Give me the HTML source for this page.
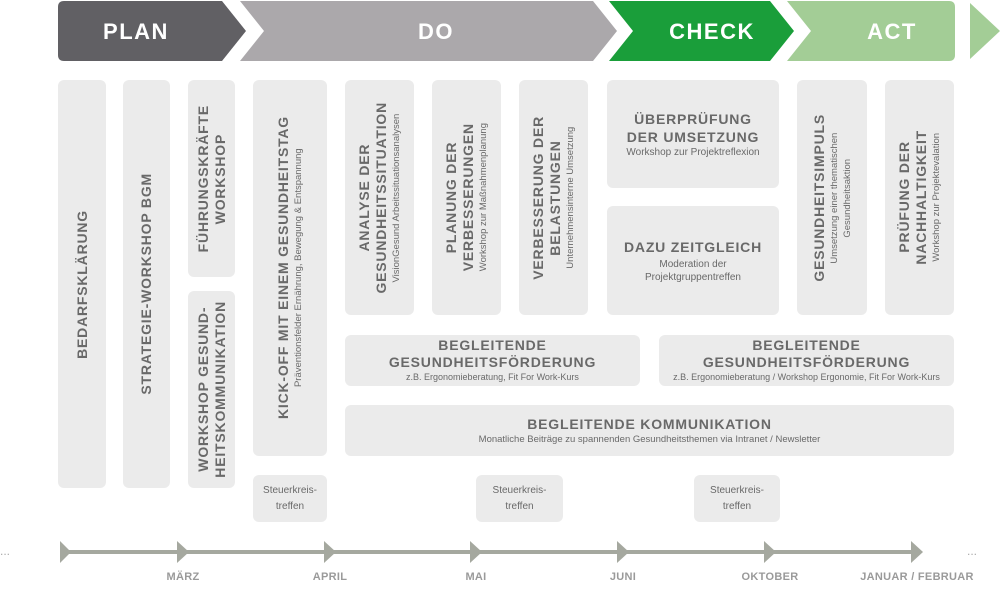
<!DOCTYPE html>
<html><head><meta charset="utf-8"><style>
body{margin:0;width:1000px;height:596px;background:#fff;position:relative;overflow:hidden;font-family:"Liberation Sans",sans-serif;color:#696969}
.b{position:absolute;background:#ebebeb;border-radius:6px;display:flex;align-items:center;justify-content:center;text-align:center}
.v{writing-mode:vertical-rl;transform:rotate(180deg)}
.t{font-weight:bold;font-size:14px;letter-spacing:0.8px;line-height:17px}
.s{font-size:9.5px;line-height:13px;letter-spacing:0}
.h{font-weight:bold;font-size:14px;letter-spacing:0.8px;line-height:18px}
.m{position:absolute;top:571px;font-size:11px;font-weight:bold;color:#9a9a9a;transform:translateX(-50%);letter-spacing:0.3px;white-space:nowrap}
</style></head><body>
<svg width="1000" height="64" style="position:absolute;left:0;top:0">
<path d="M64 1 H222 L246 31 L222 61 H64 Q58 61 58 55 V7 Q58 1 64 1Z" fill="#616064"/>
<path d="M240 1 H593 L617 31 L593 61 H240 L264 31Z" fill="#aba8ab"/>
<path d="M609 1 H770 L794 31 L770 61 H609 L633 31Z" fill="#1a9e3a"/>
<path d="M787 1 H949 Q955 1 955 7 V55 Q955 61 949 61 H787 L811 31Z" fill="#a3cd96"/>
<path d="M970 3 L1000 31 L970 59Z" fill="#a3cd96"/>
<g fill="#fff" font-family="Liberation Sans" font-weight="bold" font-size="22" letter-spacing="1.5" text-anchor="middle">
<text x="136" y="39">PLAN</text><text x="436" y="39">DO</text><text x="712" y="39">CHECK</text><text x="892" y="39">ACT</text></g>
</svg>

<div class="b" style="left:58px;top:80px;width:48px;height:408px"><div class="v t">BEDARFSKLÄRUNG</div></div>
<div class="b" style="left:123px;top:80px;width:47px;height:408px"><div class="v t">STRATEGIE-WORKSHOP BGM</div></div>
<div class="b" style="left:188px;top:80px;width:47px;height:197px"><div class="v t">FÜHRUNGSKRÄFTE<br>WORKSHOP</div></div>
<div class="b" style="left:188px;top:291px;width:47px;height:197px"><div class="v t">WORKSHOP GESUND-<br>HEITSKOMMUNIKATION</div></div>
<div class="b" style="left:253px;top:80px;width:74px;height:376px"><div class="v"><div class="t">KICK-OFF MIT EINEM GESUNDHEITSTAG</div><div class="s">Präventionsfelder Ernährung, Bewegung &amp; Entspannung</div></div></div>
<div class="b" style="left:345px;top:80px;width:69px;height:235px"><div class="v"><div class="t">ANALYSE DER<br>GESUNDHEITSSITUATION</div><div class="s">VisionGesund Arbeitssituationsanalysen</div></div></div>
<div class="b" style="left:432px;top:80px;width:69px;height:235px"><div class="v"><div class="t">PLANUNG DER<br>VERBESSERUNGEN</div><div class="s">Workshop zur Maßnahmenplanung</div></div></div>
<div class="b" style="left:519px;top:80px;width:69px;height:235px"><div class="v"><div class="t">VERBESSERUNG DER<br>BELASTUNGEN</div><div class="s">Unternehmensinterne Umsetzung</div></div></div>
<div class="b" style="left:607px;top:80px;width:172px;height:108px"><div><div class="h">ÜBERPRÜFUNG<br>DER UMSETZUNG</div><div class="s" style="font-size:10px">Workshop zur Projektreflexion</div></div></div>
<div class="b" style="left:607px;top:206px;width:172px;height:109px"><div><div class="h">DAZU ZEITGLEICH</div><div class="s" style="font-size:10px;margin-top:2px">Moderation der<br>Projektgruppentreffen</div></div></div>
<div class="b" style="left:797px;top:80px;width:70px;height:235px"><div class="v"><div class="t">GESUNDHEITSIMPULS</div><div class="s">Umsetzung einer thematischen<br>Gesundheitsaktion</div></div></div>
<div class="b" style="left:885px;top:80px;width:69px;height:235px"><div class="v"><div class="t">PRÜFUNG DER<br>NACHHALTIGKEIT</div><div class="s">Workshop zur Projektevalation</div></div></div>
<div class="b" style="left:345px;top:335px;width:295px;height:51px"><div><div class="h" style="line-height:17px">BEGLEITENDE<br>GESUNDHEITSFÖRDERUNG</div><div class="s" style="font-size:9px">z.B. Ergonomieberatung, Fit For Work-Kurs</div></div></div>
<div class="b" style="left:659px;top:335px;width:295px;height:51px"><div><div class="h" style="line-height:17px">BEGLEITENDE<br>GESUNDHEITSFÖRDERUNG</div><div class="s" style="font-size:9px">z.B. Ergonomieberatung / Workshop Ergonomie, Fit For Work-Kurs</div></div></div>
<div class="b" style="left:345px;top:405px;width:609px;height:51px"><div><div class="h">BEGLEITENDE KOMMUNIKATION</div><div class="s" style="font-size:9.5px">Monatliche Beiträge zu spannenden Gesundheitsthemen via Intranet / Newsletter</div></div></div>
<div class="b s" style="left:253px;top:475px;width:74px;height:47px;font-size:10px;line-height:16px">Steuerkreis-<br>treffen</div>
<div class="b s" style="left:476px;top:475px;width:87px;height:47px;font-size:10px;line-height:16px">Steuerkreis-<br>treffen</div>
<div class="b s" style="left:694px;top:475px;width:86px;height:47px;font-size:10px;line-height:16px">Steuerkreis-<br>treffen</div>

<svg width="1000" height="80" style="position:absolute;left:0;top:520px">
<line x1="62" y1="32" x2="914" y2="32" stroke="#a5a89f" stroke-width="4"/>
<g fill="#a5a89f">
<path d="M60 21 L71 32 L60 43Z"/><path d="M177 21 L189 32 L177 43Z"/><path d="M324 21 L336 32 L324 43Z"/><path d="M470 21 L482 32 L470 43Z"/><path d="M617 21 L629 32 L617 43Z"/><path d="M764 21 L776 32 L764 43Z"/><path d="M911 21 L923 32 L911 43Z"/>
</g>
<text x="0" y="35" fill="#aaa" font-size="12" font-family="Liberation Sans">...</text>
<text x="967" y="35" fill="#aaa" font-size="12" font-family="Liberation Sans">...</text>
</svg>
<div class="m" style="left:183px">MÄRZ</div>
<div class="m" style="left:330px">APRIL</div>
<div class="m" style="left:476px">MAI</div>
<div class="m" style="left:623px">JUNI</div>
<div class="m" style="left:770px">OKTOBER</div>
<div class="m" style="left:917px">JANUAR / FEBRUAR</div>
</body></html>
